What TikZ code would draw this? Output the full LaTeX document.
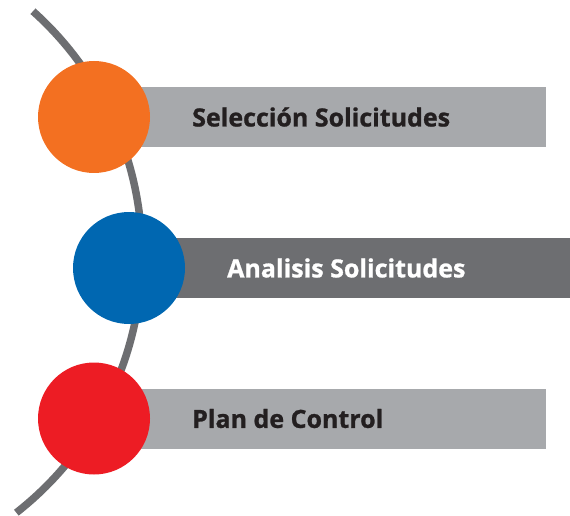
\documentclass[tikz,border=0pt]{standalone}
\usepackage{fontspec}
\usepackage{tikz}
\usetikzlibrary{positioning}
\newfontfamily\stepfont[BoldFeatures={FakeBold=1}]{Open Sans}
\definecolor{arcgray}{HTML}{6D6E71}
\definecolor{lightbar}{HTML}{A7A9AC}
\definecolor{darkbar}{HTML}{6D6E71}
\definecolor{textdark}{HTML}{231F20}
\definecolor{myorange}{HTML}{F37021}
\definecolor{myblue}{HTML}{0067B1}
\definecolor{myred}{HTML}{ED1C24}
\tikzset{my_arc/.style={line width=7.5pt, arcgray}}
\tikzset{my_dot/.style={circle, minimum size=112pt, inner sep=0pt}}
\tikzset{my_bar/.style={rectangle, minimum height=60pt, inner sep=0pt}}
\tikzset{my_label/.style={anchor=west, inner sep=0pt, font=\stepfont\bfseries\fontsize{25}{30}\selectfont}}

\begin{document}
\begin{tikzpicture}[x=1pt, y=1pt]
    \useasboundingbox (0,0) rectangle (570,515);
    %\draw[help lines, step=50] (0,0) grid (570,515);
    \draw[my_arc] (-185,260) ++(48.2:327) arc[start angle=48.2, end angle=-52, radius=327];

    \node[my_bar, fill=lightbar, minimum width=452pt] (bar1) at (320,398) {};
    \node[my_bar, fill=darkbar, minimum width=441pt] (bar2) at (349.5,247) {};
    \node[my_bar, fill=lightbar, minimum width=452pt] (bar3) at (320,96.5) {};

    \node[my_dot, fill=myorange] (sel) at (94,398) {};
    \node[my_dot, fill=myblue] (ana) at (129,247) {};
    \node[my_dot, fill=myred] (plan) at (94,96.5) {};

    \node[my_label, textdark] (selText) at (192,398) {Selección Solicitudes};
    \node[my_label, white] (anaText) at (227,247) {Analisis Solicitudes};
    \node[my_label, textdark] (planText) at (192,96.5) {Plan de Control};
\end{tikzpicture}
\end{document}
